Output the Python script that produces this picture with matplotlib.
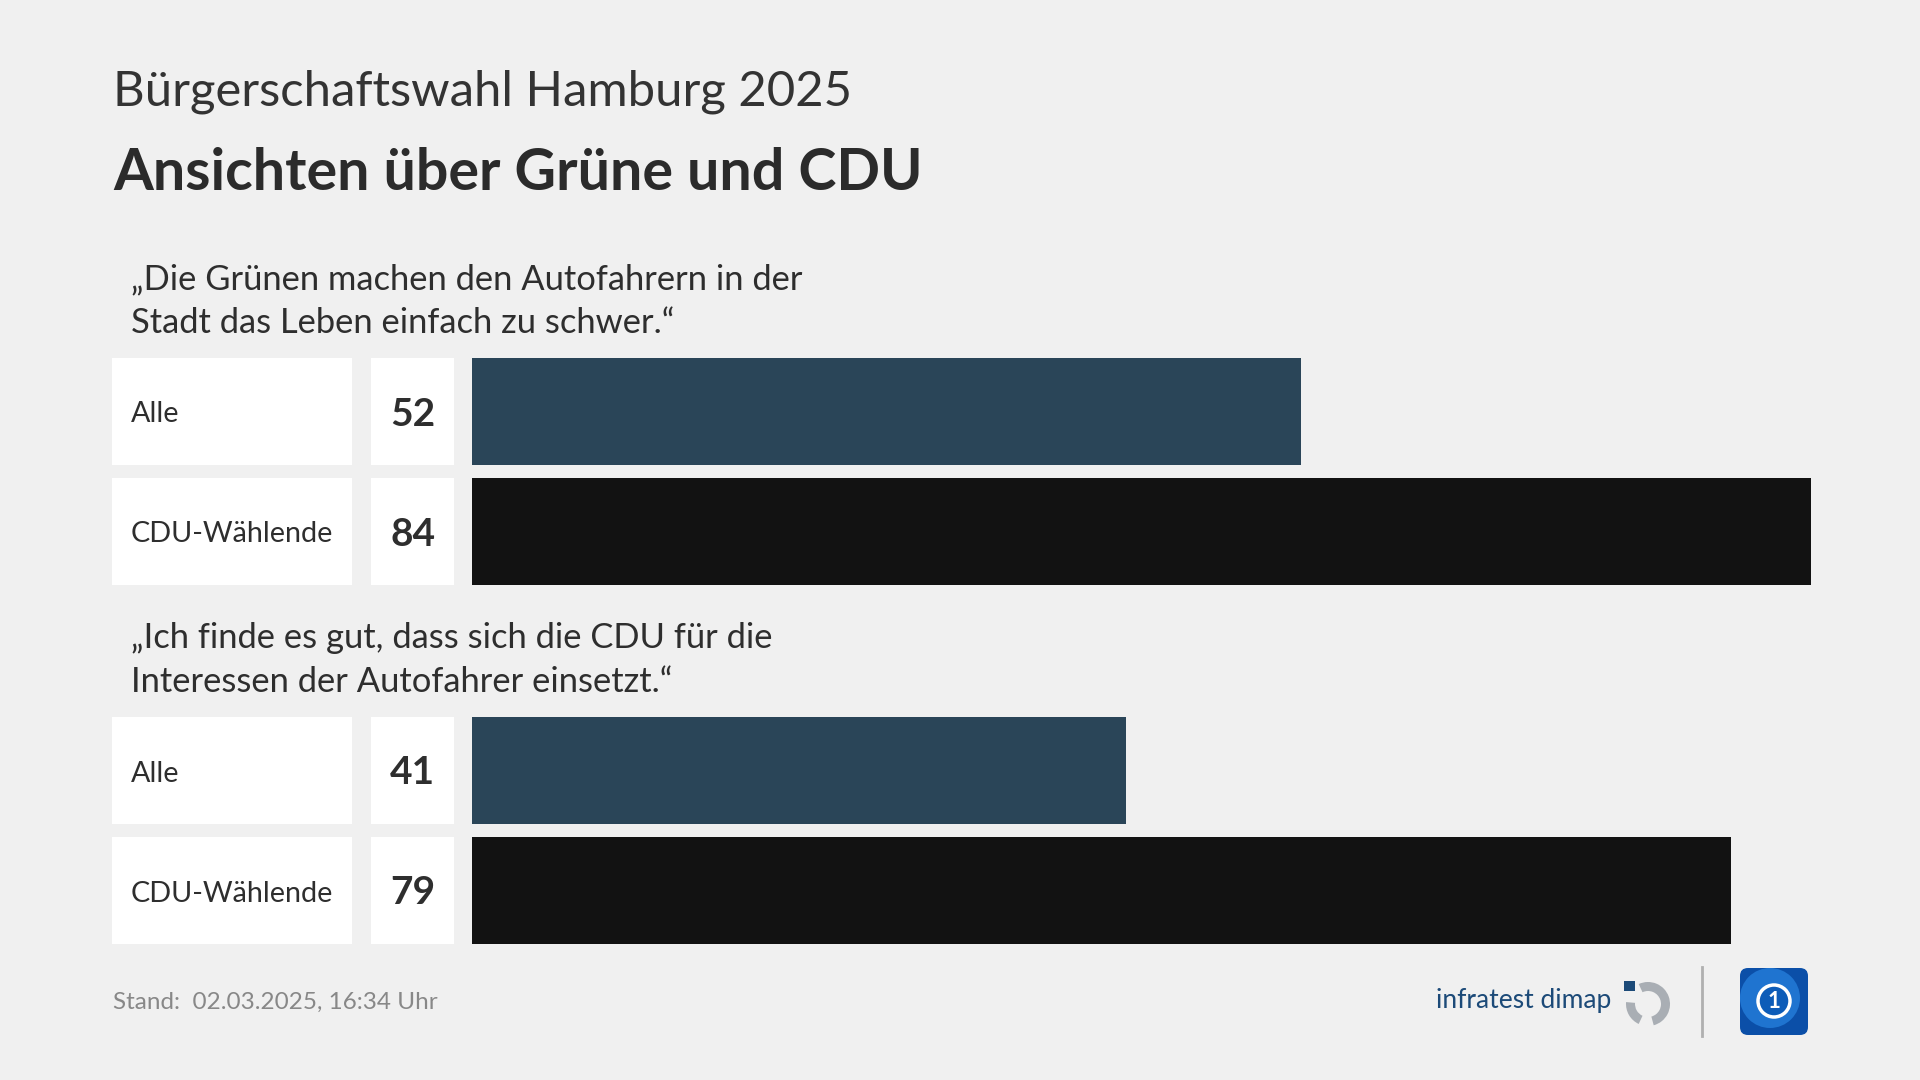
import matplotlib.pyplot as plt
import matplotlib.transforms as mtransforms
from matplotlib.patches import Rectangle, Wedge, FancyBboxPatch, Circle

plt.rcParams['font.family'] = ['Lato', 'DejaVu Sans']

# daten
subtitle = 'Bürgerschaftswahl Hamburg 2025'
title = 'Ansichten über Grüne und CDU'
questions = [
    ['„Die Grünen machen den Autofahrern in der', 'Stadt das Leben einfach zu schwer.“'],
    ['„Ich finde es gut, dass sich die CDU für die', 'Interessen der Autofahrer einsetzt.“'],
]
groups = ['Alle', 'CDU-Wählende']
values = [[52, 84], [41, 79]]
bar_colors = ['#2a4558', '#121212']
footer = 'Stand:  02.03.2025, 16:34 Uhr'

W, H = 1920, 1080
BG = '#f0f0f0'
TXT = '#2e2e2e'

fig = plt.figure(figsize=(W / 100, H / 100), dpi=100, facecolor=BG)


def fx(px):
    return px / W


def fy(py):
    return 1 - py / H


# layout in pixeln
group_top = [358, 717]
pitch = 120
bar_h = 107
y_top, y_bot = 358, 944
bar_x0, bar_x1 = 472, 1811

ax = fig.add_axes([fx(bar_x0), fy(y_bot), fx(bar_x1 - bar_x0), (y_bot - y_top) / H])
ax.set_facecolor('none')
ax.set_xlim(0, max(max(v) for v in values))
ax.set_ylim(y_bot, y_top)
ax.axis('off')

trans = mtransforms.blended_transform_factory(fig.transFigure, ax.transData)

for g, (top, vals) in enumerate(zip(group_top, values)):
    # frage ueber der gruppe
    fig.text(fx(131), fy(top - 69), questions[g][0], fontsize=24.8, color=TXT, va='baseline')
    fig.text(fx(131), fy(top - 25), questions[g][1], fontsize=24.8, color=TXT, va='baseline')
    for i, (lab, v) in enumerate(zip(groups, vals)):
        yc = top + i * pitch + bar_h / 2
        ax.barh(yc, v, height=bar_h, color=bar_colors[i], left=0)
        ax.add_patch(Rectangle((fx(112), yc - bar_h / 2), fx(240), bar_h, transform=trans,
                               facecolor='white', edgecolor='none', clip_on=False))
        ax.add_patch(Rectangle((fx(371), yc - bar_h / 2), fx(83), bar_h, transform=trans,
                               facecolor='white', edgecolor='none', clip_on=False))
        ax.text(fx(131), yc + 11, lab, transform=trans, fontsize=20.7, color=TXT, va='baseline')
        ax.text(fx(412.5), yc + 14, str(v), transform=trans, fontsize=28, fontweight='bold',
                color=TXT, va='baseline', ha='center')

# titel
fig.text(fx(113), fy(105), subtitle, fontsize=35.3, color='#333333', va='baseline')
fig.text(fx(113), fy(190), title, fontsize=41.3, fontweight='bold', color='#2b2b2b', va='baseline')

# fusszeile
fig.text(fx(113), fy(1009), footer, fontsize=17.5, color='#888888', va='baseline')

# logo infratest dimap
fig.text(fx(1436), fy(1008), 'infratest dimap', fontsize=19, color='#1c4a78', va='baseline')
lax = fig.add_axes([0, 0, 1, 1], facecolor='none')
lax.set_xlim(0, W)
lax.set_ylim(H, 0)
lax.axis('off')
lax.add_patch(Wedge((1648, 1004), 22, -115, 75, width=9, facecolor='#a9aeb4', edgecolor='none'))
lax.add_patch(Wedge((1648, 1004), 22, 115, 185, width=9, facecolor='#a9aeb4', edgecolor='none'))
lax.add_patch(Rectangle((1624, 981), 11, 10, facecolor='#1c4a78', edgecolor='none'))
lax.plot([1702, 1702], [967, 1036], color='#b0b0b0', lw=2)

# logo ARD
lax.add_patch(FancyBboxPatch((1742, 970), 64, 63, boxstyle='round,pad=2,rounding_size=8',
                             facecolor='#0b4fa8', edgecolor='none'))
lax.add_patch(Circle((1770, 998), 30, facecolor='#1f74d0', edgecolor='none'))
lax.add_patch(Circle((1774, 1001), 16, facecolor='#0d5cb8', edgecolor='white', lw=2.5))
lax.text(1774, 1002, '1', fontsize=16, fontweight='bold', color='white', ha='center', va='center')

fig.savefig('out.png', dpi=100, facecolor=BG)
